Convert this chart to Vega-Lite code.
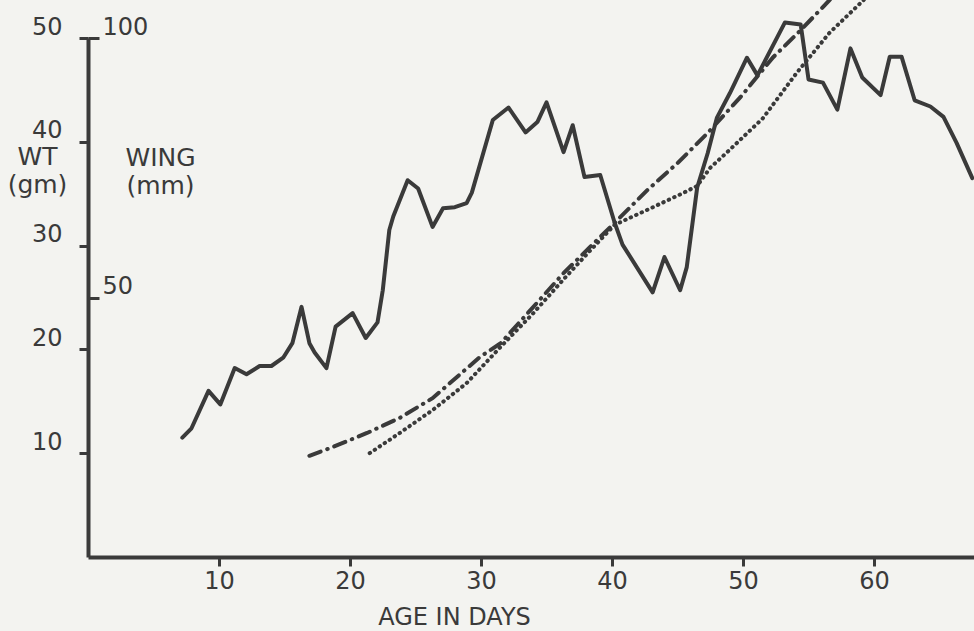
{
  "$schema": "https://vega.github.io/schema/vega-lite/v6.json",
  "width": 886,
  "height": 519,
  "autosize": {"type": "none"},
  "padding": {"left": 88, "top": 38, "right": 0, "bottom": 74},
  "background": "#f3f3f0",
  "config": {
    "view": {"stroke": null},
    "font": "DejaVu Sans",
    "axis": {
      "labelFont": "DejaVu Sans",
      "titleFont": "DejaVu Sans",
      "labelColor": "#3a3a3a",
      "titleColor": "#3a3a3a",
      "domainColor": "#3a3a3a",
      "tickColor": "#3a3a3a",
      "grid": false,
      "labelFontSize": 24,
      "titleFontSize": 25,
      "titleFontWeight": "normal"
    }
  },
  "datasets": {
    "weight": [
      {"day": 7.2, "gm": 11.5}, {"day": 7.9, "gm": 12.4}, {"day": 9.2, "gm": 16.0}, {"day": 10.1, "gm": 14.7},
      {"day": 11.2, "gm": 18.2}, {"day": 12.1, "gm": 17.6}, {"day": 13.1, "gm": 18.4}, {"day": 14.0, "gm": 18.4},
      {"day": 14.9, "gm": 19.2}, {"day": 15.6, "gm": 20.6}, {"day": 16.3, "gm": 24.1}, {"day": 16.9, "gm": 20.6},
      {"day": 17.3, "gm": 19.7}, {"day": 18.2, "gm": 18.2}, {"day": 18.9, "gm": 22.2}, {"day": 20.2, "gm": 23.5},
      {"day": 21.2, "gm": 21.1}, {"day": 22.1, "gm": 22.6}, {"day": 22.5, "gm": 25.7}, {"day": 23.0, "gm": 31.5},
      {"day": 23.3, "gm": 32.8}, {"day": 24.4, "gm": 36.3}, {"day": 25.2, "gm": 35.5}, {"day": 26.3, "gm": 31.8},
      {"day": 27.1, "gm": 33.6}, {"day": 28.0, "gm": 33.7}, {"day": 28.9, "gm": 34.1}, {"day": 29.3, "gm": 35.1},
      {"day": 30.9, "gm": 42.1}, {"day": 32.1, "gm": 43.3}, {"day": 33.4, "gm": 40.9}, {"day": 34.3, "gm": 41.9},
      {"day": 35.0, "gm": 43.8}, {"day": 36.3, "gm": 39.0}, {"day": 37.0, "gm": 41.6}, {"day": 37.9, "gm": 36.6},
      {"day": 39.1, "gm": 36.8}, {"day": 40.2, "gm": 32.2}, {"day": 40.8, "gm": 30.1}, {"day": 43.1, "gm": 25.5},
      {"day": 44.0, "gm": 28.9}, {"day": 45.2, "gm": 25.7}, {"day": 45.7, "gm": 27.9}, {"day": 46.5, "gm": 35.6},
      {"day": 47.3, "gm": 38.9}, {"day": 48.0, "gm": 42.3}, {"day": 49.0, "gm": 44.7}, {"day": 50.3, "gm": 48.1},
      {"day": 51.1, "gm": 46.4}, {"day": 53.2, "gm": 51.5}, {"day": 54.4, "gm": 51.3}, {"day": 55.0, "gm": 46.0},
      {"day": 56.1, "gm": 45.7}, {"day": 57.2, "gm": 43.1}, {"day": 58.2, "gm": 49.0}, {"day": 59.1, "gm": 46.2},
      {"day": 60.5, "gm": 44.5}, {"day": 61.2, "gm": 48.2}, {"day": 62.1, "gm": 48.2}, {"day": 63.1, "gm": 44.0},
      {"day": 64.3, "gm": 43.4}, {"day": 65.3, "gm": 42.4}, {"day": 66.3, "gm": 39.9}, {"day": 67.5, "gm": 36.5}
    ],
    "wing": [
      {"series": "A", "day": 16.9, "mm": 19.5}, {"series": "A", "day": 18.7, "mm": 21.2}, {"series": "A", "day": 21.3, "mm": 23.9},
      {"series": "A", "day": 23.8, "mm": 26.8}, {"series": "A", "day": 26.3, "mm": 30.6}, {"series": "A", "day": 29.9, "mm": 38.5},
      {"series": "A", "day": 31.5, "mm": 41.2}, {"series": "A", "day": 34.0, "mm": 48.2}, {"series": "A", "day": 36.3, "mm": 54.7},
      {"series": "A", "day": 40.2, "mm": 64.4}, {"series": "A", "day": 42.7, "mm": 70.7}, {"series": "A", "day": 45.0, "mm": 75.9},
      {"series": "A", "day": 47.3, "mm": 81.7}, {"series": "A", "day": 49.8, "mm": 88.6}, {"series": "A", "day": 52.3, "mm": 96.3},
      {"series": "A", "day": 54.4, "mm": 101.5}, {"series": "A", "day": 56.6, "mm": 107.3}, {"series": "A", "day": 57.5, "mm": 110.0},
      {"series": "B", "day": 21.5, "mm": 20.0}, {"series": "B", "day": 23.8, "mm": 23.9}, {"series": "B", "day": 26.3, "mm": 28.3},
      {"series": "B", "day": 28.9, "mm": 33.5}, {"series": "B", "day": 31.5, "mm": 40.5}, {"series": "B", "day": 34.0, "mm": 47.0},
      {"series": "B", "day": 36.3, "mm": 53.5}, {"series": "B", "day": 38.5, "mm": 59.5}, {"series": "B", "day": 40.2, "mm": 64.0},
      {"series": "B", "day": 42.7, "mm": 66.9}, {"series": "B", "day": 45.4, "mm": 70.1}, {"series": "B", "day": 46.5, "mm": 71.5},
      {"series": "B", "day": 47.5, "mm": 75.0}, {"series": "B", "day": 49.0, "mm": 78.5}, {"series": "B", "day": 51.5, "mm": 84.5},
      {"series": "B", "day": 54.1, "mm": 93.3}, {"series": "B", "day": 56.6, "mm": 101.0}, {"series": "B", "day": 59.2, "mm": 107.3},
      {"series": "B", "day": 60.0, "mm": 110.0}
    ]
  },
  "encoding": {
    "x": {
      "field": "day",
      "type": "quantitative",
      "scale": {"domain": [0, 67.63], "nice": false, "zero": false},
      "axis": {
        "values": [10, 20, 30, 40, 50, 60],
        "title": "AGE IN DAYS",
        "titleX": 366,
        "titleY": 48,
        "titleAlign": "center",
        "titleBaseline": "top",
        "titleFontSize": 24,
        "tickSize": 9,
        "tickWidth": 3,
        "domainWidth": 4,
        "labelPadding": 3,
        "labelFlush": false
      }
    }
  },
  "layer": [
    {
      "data": {"name": "weight"},
      "mark": {"type": "line", "color": "#3a3a3a", "strokeWidth": 4, "strokeJoin": "round", "strokeCap": "round", "clip": false},
      "encoding": {
        "y": {
          "field": "gm",
          "type": "quantitative",
          "scale": {"domain": [0, 50], "nice": false},
          "axis": {
            "orient": "left",
            "values": [10, 20, 30, 40, 50],
            "title": ["WT", "(gm)"],
            "titleAngle": 0,
            "titleX": -51,
            "titleY": 106,
            "titleAlign": "center",
            "titleBaseline": "top",
            "titleLineHeight": 28,
            "tickSize": 9,
            "tickWidth": 3,
            "domainWidth": 4,
            "labelPadding": 17,
            "labelBaseline": "alphabetic",
            "labelOffset": -4,
            "labelFlush": false
          }
        }
      }
    },
    {
      "data": {"name": "wing"},
      "mark": {"type": "line", "color": "#3a3a3a", "strokeWidth": 4, "strokeCap": "round", "clip": false},
      "encoding": {
        "y": {
          "field": "mm",
          "type": "quantitative",
          "scale": {"domain": [0, 100], "nice": false},
          "axis": {
            "orient": "right",
            "offset": -886,
            "domain": false,
            "values": [50, 100],
            "title": ["WING", "(mm)"],
            "titleAngle": 0,
            "titleX": 72,
            "titleY": 107,
            "titleAlign": "center",
            "titleBaseline": "top",
            "titleLineHeight": 28,
            "tickSize": 11,
            "tickWidth": 3,
            "labelPadding": 3,
            "labelBaseline": "alphabetic",
            "labelOffset": -4,
            "labelFlush": false
          }
        },
        "strokeDash": {
          "field": "series",
          "type": "nominal",
          "scale": {"domain": ["A", "B"], "range": [[12, 7, 0.5, 7], [0.5, 5.5]]},
          "legend": null
        }
      }
    }
  ],
  "resolve": {"scale": {"y": "independent"}}
}
